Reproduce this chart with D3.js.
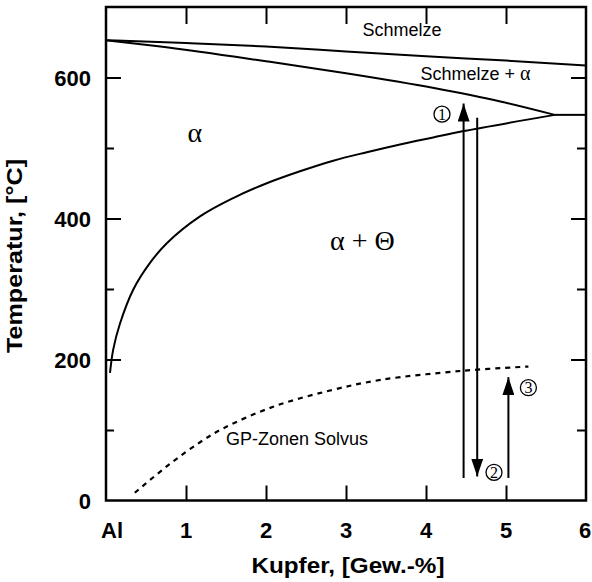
<!DOCTYPE html>
<html>
<head>
<meta charset="utf-8">
<script src="https://cdn.jsdelivr.net/npm/d3@7"></script>
<style>
  html, body { margin: 0; padding: 0; background: #fff; }
  svg { display: block; }
</style>
</head>
<body>
<div id="chart"></div>
<script>
// Al–Cu phase diagram (aluminium-rich side)
const xTicks = [0, 1, 2, 3, 4, 5, 6];
const xTickLabels = ["Al", "1", "2", "3", "4", "5", "6"];
const yMajorTicks = [0, 200, 400, 600];
const yMinorTicks = [100, 300, 500];

// [Cu wt-%, temperature °C]
const liquidus = [[0, 653], [1, 649], [2, 644], [3, 637], [4, 630], [5, 624], [6, 617]];
const solidus = [[0, 653], [0.68, 644], [2.0, 623], [3.0, 606], [4.1, 585], [4.93, 566], [5.61, 547]];
const eutectic = [[5.61, 547], [6, 547]];
const solvus = [[0.05, 181], [0.09, 214], [0.175, 251], [0.34, 299], [0.55, 337], [0.76, 365],
                [1.175, 403], [1.59, 429], [2.01, 450], [2.425, 467], [2.84, 482], [3.26, 494],
                [3.675, 505], [4.09, 515], [4.47, 524], [5.61, 547]];
const gpSolvus = [[0.36, 11], [0.8, 52], [1.18, 83], [1.46, 102], [2.09, 133], [2.8, 156],
                  [3.43, 171], [4.46, 184], [5.28, 190]];

// heat-treatment steps: composition, start and end temperature
const steps = [
  { id: "1", x: 4.47, from: 32, to: 563 },
  { id: "2", x: 4.64, from: 543, to: 34 },
  { id: "3", x: 5.03, from: 32, to: 175 }
];
const stepLabels = [
  { id: "1", x: 4.2, t: 548 },
  { id: "2", x: 4.85, t: 40 },
  { id: "3", x: 5.28, t: 160 }
];

const W = 592, H = 582;
const margin = { left: 106, right: 6, top: 7, bottom: 81.5 };
const iw = W - margin.left - margin.right;
const ih = H - margin.top - margin.bottom;

const x = d3.scaleLinear().domain([0, 6]).range([0, iw]);
const y = d3.scaleLinear().domain([0, 700]).range([ih, 0]);

const svg = d3.select("#chart").append("svg")
  .attr("width", W).attr("height", H);

// filled arrowhead; its tip sits on the end of the line
svg.append("defs").append("marker")
  .attr("id", "head")
  .attr("viewBox", "0 0 18 12")
  .attr("refX", 18).attr("refY", 6)
  .attr("markerWidth", 18).attr("markerHeight", 12)
  .attr("markerUnits", "userSpaceOnUse")
  .attr("orient", "auto")
  .append("path").attr("d", "M0,0 L18,6 L0,12 Z").attr("fill", "#000");

const g = svg.append("g").attr("transform", `translate(${margin.left},${margin.top})`);

const sans = "'Liberation Sans', Arial, Helvetica, sans-serif";
const serif = "'Liberation Serif', 'Times New Roman', serif";

// axes with inward ticks
function styleAxis(sel) {
  sel.select(".domain").remove();
  sel.selectAll(".tick line").attr("stroke", "#000").attr("stroke-width", 2);
}
const inner = xTicks.filter(d => d > 0 && d < 6);

g.append("g").attr("transform", `translate(0,${ih})`)
  .call(d3.axisBottom(x).tickValues(inner).tickSizeInner(-15).tickSizeOuter(0).tickFormat(""))
  .call(styleAxis);
g.append("g")
  .call(d3.axisTop(x).tickValues(inner).tickSizeInner(-17).tickSizeOuter(0).tickFormat(""))
  .call(styleAxis);
g.append("g")
  .call(d3.axisLeft(y).tickValues(yMajorTicks.filter(d => d > 0)).tickSizeInner(-15).tickSizeOuter(0).tickFormat(""))
  .call(styleAxis);
g.append("g")
  .call(d3.axisLeft(y).tickValues(yMinorTicks).tickSizeInner(-8).tickSizeOuter(0).tickFormat(""))
  .call(styleAxis);
g.append("g").attr("transform", `translate(${iw},0)`)
  .call(d3.axisRight(y).tickValues(yMajorTicks.filter(d => d > 0)).tickSizeInner(-15).tickSizeOuter(0).tickFormat(""))
  .call(styleAxis);
g.append("g").attr("transform", `translate(${iw},0)`)
  .call(d3.axisRight(y).tickValues(yMinorTicks).tickSizeInner(-9).tickSizeOuter(0).tickFormat(""))
  .call(styleAxis);

// tick labels
g.append("g").selectAll("text").data(xTicks).join("text")
  .attr("x", (d, i) => x(d) + (i === 0 ? 6 : i === xTicks.length - 1 ? -1 : 0))
  .attr("y", ih + 37)
  .attr("text-anchor", "middle")
  .attr("font-family", sans).attr("font-weight", "bold").attr("font-size", 22)
  .text((d, i) => xTickLabels[i]);

g.append("g").selectAll("text").data(yMajorTicks).join("text")
  .attr("x", -15)
  .attr("y", d => y(d) + 8)
  .attr("text-anchor", "end")
  .attr("font-family", sans).attr("font-weight", "bold").attr("font-size", 22)
  .text(d => d);

// frame
g.append("rect").attr("x", 0).attr("y", 0).attr("width", iw).attr("height", ih)
  .attr("fill", "none").attr("stroke", "#000").attr("stroke-width", 2.5);

// phase boundaries
const line = d3.line().x(d => x(d[0])).y(d => y(d[1])).curve(d3.curveMonotoneX);
const smooth = d3.line().x(d => x(d[0])).y(d => y(d[1])).curve(d3.curveCatmullRom.alpha(0.5));
[liquidus, solidus, eutectic].forEach(data => {
  g.append("path").datum(data).attr("d", line)
    .attr("fill", "none").attr("stroke", "#000").attr("stroke-width", 2);
});
g.append("path").datum(solvus).attr("d", smooth)
  .attr("fill", "none").attr("stroke", "#000").attr("stroke-width", 2);
g.append("path").datum(gpSolvus).attr("d", smooth)
  .attr("fill", "none").attr("stroke", "#000").attr("stroke-width", 2.2)
  .attr("stroke-dasharray", "5,5");

// heat-treatment arrows
g.append("g").selectAll("line").data(steps).join("line")
  .attr("x1", d => x(d.x)).attr("x2", d => x(d.x))
  .attr("y1", d => y(d.from)).attr("y2", d => y(d.to))
  .attr("stroke", "#000").attr("stroke-width", 2)
  .attr("marker-end", "url(#head)");

// step numbers in circles
const nums = g.append("g").selectAll("g").data(stepLabels).join("g")
  .attr("transform", d => `translate(${x(d.x)},${y(d.t)})`);
nums.append("circle").attr("r", 8).attr("fill", "#fff").attr("stroke", "#000").attr("stroke-width", 1.3);
nums.append("text").attr("y", 5.5).attr("text-anchor", "middle")
  .attr("font-family", serif).attr("font-size", 16)
  .text(d => d.id);

// region labels
g.append("text").attr("x", x(3.7)).attr("y", y(659))
  .attr("text-anchor", "middle").attr("font-family", sans).attr("font-size", 18)
  .text("Schmelze");
const sa = g.append("text").attr("x", x(3.93)).attr("y", y(596))
  .attr("font-family", sans).attr("font-size", 18);
sa.append("tspan").text("Schmelze + ");
sa.append("tspan").attr("font-family", serif).attr("font-size", 20).text("α");

g.append("text").attr("x", x(1.02)).attr("y", y(509))
  .attr("font-family", serif).attr("font-size", 28)
  .text("α");
g.append("text").attr("x", x(2.8)).attr("y", y(355))
  .attr("font-family", serif).attr("font-size", 28)
  .text("α + Θ");
g.append("text").attr("x", x(1.5)).attr("y", y(79))
  .attr("font-family", sans).attr("font-size", 18)
  .text("GP-Zonen Solvus");

// axis titles
svg.append("text")
  .attr("transform", `translate(22,256) rotate(-90)`)
  .attr("text-anchor", "middle")
  .attr("font-family", sans).attr("font-weight", "bold").attr("font-size", 22)
  .attr("textLength", 194).attr("lengthAdjust", "spacingAndGlyphs")
  .text("Temperatur, [°C]");
svg.append("text")
  .attr("x", 348).attr("y", 573)
  .attr("text-anchor", "middle")
  .attr("font-family", sans).attr("font-weight", "bold").attr("font-size", 22)
  .attr("textLength", 193).attr("lengthAdjust", "spacingAndGlyphs")
  .text("Kupfer, [Gew.-%]");
</script>
</body>
</html>
